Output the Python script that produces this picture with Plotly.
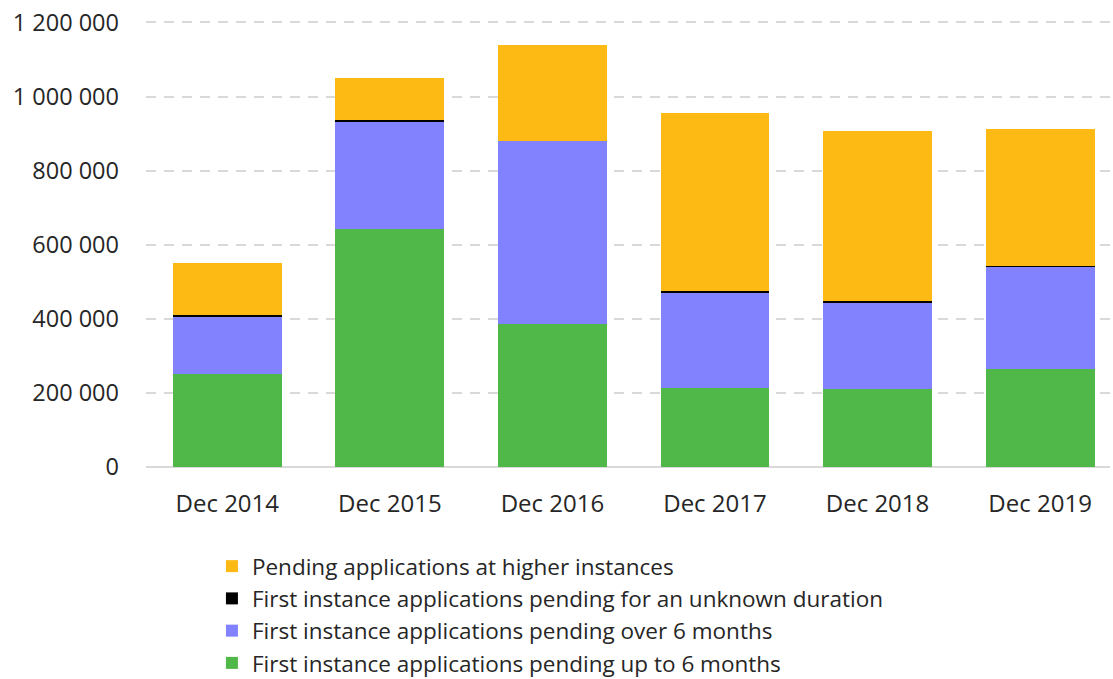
import plotly.graph_objects as go

categories = ["Dec 2014", "Dec 2015", "Dec 2016", "Dec 2017", "Dec 2018", "Dec 2019"]
up_to_6m = [251000, 643000, 385000, 212000, 211000, 264000]
over_6m = [153000, 287000, 495000, 260000, 234000, 276000]
unknown = [7000, 6000, 1000, 2000, 3000, 2000]
higher = [140000, 113000, 258000, 481000, 459000, 371000]

names = [
    "First instance applications pending up to 6 months",
    "First instance applications pending over 6 months",
    "First instance applications pending for an unknown duration",
    "Pending applications at higher instances",
]
colors = ["#50B848", "#8282FF", "#000000", "#FDBA14"]
series = [up_to_6m, over_6m, unknown, higher]

fig = go.Figure()
for name, color, vals in zip(names, colors, series):
    fig.add_trace(go.Bar(x=categories, y=vals, name=name, marker_color=color,
                         marker_line_width=0))

font_family = "'Open Sans', sans-serif"
fig.update_layout(
    barmode="stack",
    bargap=0.33,
    width=1113, height=679,
    margin=dict(l=146, r=3, t=15, b=212, autoexpand=False),
    plot_bgcolor="white", paper_bgcolor="white",
    separators=". ",
    font=dict(family=font_family, color="#262626", size=23),
    legend=dict(traceorder="reversed", orientation="v", x=0.0684, xanchor="left",
                y=-0.1726, yanchor="top", font=dict(size=22.5, color="#262626"),
                itemwidth=30, tracegroupgap=0, bgcolor="rgba(0,0,0,0)"),
    xaxis=dict(range=[-0.5, 5.43], showgrid=False, showline=False, ticks="",
               ticklabelstandoff=20, tickfont=dict(size=24, color="#262626")),
    yaxis=dict(range=[0, 1220000], tickvals=[0, 200000, 400000, 600000, 800000, 1000000, 1200000],
               tickformat=",d", ticklabeloverflow="allow",
               showgrid=True, gridcolor="#d9d9d9", gridwidth=2, griddash="10px,8px",
               zeroline=True, zerolinecolor="#d9d9d9", zerolinewidth=2,
               showline=False, ticks="", ticklabelstandoff=26,
               tickfont=dict(size=23.5, color="#262626")),
)

fig.write_html("out.html", config={"displayModeBar": False},
               post_script="document.body.style.margin='0';")
